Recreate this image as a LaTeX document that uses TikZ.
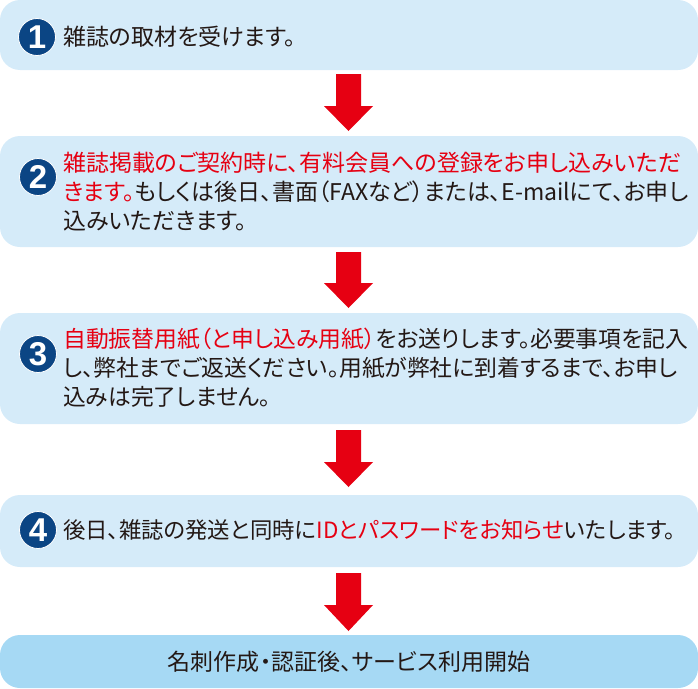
\documentclass[tikz,border=0pt]{standalone}
\usepackage{fontspec}
\newfontfamily\jpfont[RawFeature=+palt]{Noto Sans CJK JP}
\newfontfamily\numfont{Liberation Sans}
\definecolor{boxbg}{HTML}{D5EBF9}
\definecolor{lastbg}{HTML}{A6D9F4}
\definecolor{myred}{HTML}{E60012}
\definecolor{navy}{HTML}{0B4584}
\definecolor{ink}{HTML}{231815}
\tikzset{
  stepbox/.style={fill=boxbg, rounded corners=20pt, inner sep=0pt, minimum width=698pt},
  lastbox/.style={fill=lastbg, rounded corners=20pt, inner sep=0pt, minimum width=698pt},
  numdisc/.style={circle, fill=navy, draw=white, line width=0.8pt, minimum size=37pt, inner sep=0pt,
    text=white, font=\numfont\bfseries\fontsize{33}{33}\selectfont},
  txt/.style={anchor=west, align=left, inner sep=0pt, text=ink,
    font=\jpfont\fontsize{23}{29}\selectfont},
  redarrow/.style={fill=myred}
}
\begin{document}
\begin{tikzpicture}[x=1pt, y=-1pt]
\useasboundingbox (0,0) rectangle (698,688);
% boxes
\node[stepbox, minimum height=70pt] (b1) at (349,35) {};
\node[stepbox, minimum height=111pt] (b2) at (349,191.5) {};
\node[stepbox, minimum height=111pt] (b3) at (349,368.5) {};
\node[stepbox, minimum height=72pt] (b4) at (349,531) {};
\node[lastbox, minimum height=53pt] (b5) at (349,661.5) {};
% number discs
\node[numdisc] (n1) at (37,37) {1};
\node[numdisc] (n2) at (38,177) {2};
\node[numdisc] (n3) at (38,354) {3};
\node[numdisc] (n4) at (38,530) {4};
% texts
\node[txt] (t1) at (63,37) {雑誌の取材を受けます。};
\node[txt] (t2) at (63,192) {{\color{myred}雑誌掲載のご契約時に、有料会員への登録をお申し込みいただ}\\
{\color{myred}きます。}もしくは後日、書面（FAXなど）または、E-mailにて、お申し\\
込みいただきます。};
\node[txt, font=\jpfont\fontsize{22.8}{29}\selectfont] (t3) at (63,368) {{\color{myred}自動振替用紙（と申し込み用紙）}をお送りします。必要事項を記入\\
し、弊社までご返送ください。用紙が弊社に到着するまで、お申し\\
込みは完了しません。};
\node[txt, font=\jpfont\fontsize{22.4}{29}\selectfont] (t4) at (63,530) {後日、雑誌の発送と同時に{\color{myred}IDとパスワードをお知らせ}いたします。};
\node[txt, anchor=center] (t5) at (b5.center) {名刺作成・認証後、サービス利用開始};
% arrows
\foreach \yt/\yh/\yp in {74/106/131, 252/283/308, 430/462/487, 573/605/631}{
  \fill[redarrow] (336,\yt) -- (361,\yt) -- (361,\yh) -- (373,\yh) -- (348.5,\yp) -- (324,\yh) -- (336,\yh) -- cycle;
}
\end{tikzpicture}
\end{document}
